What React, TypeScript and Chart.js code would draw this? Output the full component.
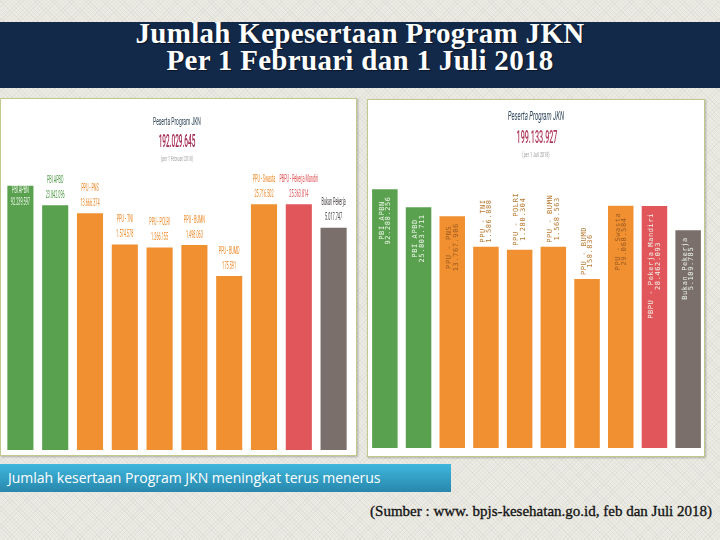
import React, { useEffect, useRef } from "react";
import { Chart, registerables } from "chart.js";

Chart.register(...registerables);

// ---------- data ----------
const categories = [
  "PBI APBN",
  "PBI APBD",
  "PPU - PNS",
  "PPU - TNI",
  "PPU - POLRI",
  "PPU - BUMN",
  "PPU - BUMD",
  "PPU - Swasta",
  "PBPU - Pekerja Mandiri",
  "Bukan Pekerja",
];
const febValues = [92239597, 23842096, 13666374, 1574578, 1266155, 1498063, 175591, 25716502, 25363814, 5017747];
const julValues = [92288256, 25803711, 13767906, 1586888, 1280304, 1568563, 158836, 29068584, 28462093, 5109785];
const febTotal = 192029645;
const julTotal = 199133927;

// ---------- styles ----------
const GREEN = "#59a14f";
const ORANGE = "#f19030";
const RED = "#e0565a";
const GRAY = "#7a6f6b";
const barColors = [GREEN, GREEN, ORANGE, ORANGE, ORANGE, ORANGE, ORANGE, ORANGE, RED, GRAY];
const LIGHT = "#eef6ea";
const febInside = [true, false, false, false, false, false, false, false, false, false];
const febLabelColors = [LIGHT, "#4f9a47", "#ee8a2a", "#ee8a2a", "#ee8a2a", "#ee8a2a", "#ee8a2a", "#ee8a2a", "#df5458", "#4a4443"];
const julInside = [true, true, true, false, false, false, false, true, true, true];
const julLabelColors = [LIGHT, LIGHT, "#9a5a22", "#b8782f", "#b8782f", "#b8782f", "#b8782f", "#9a5a22", LIGHT, LIGHT];

const fmt = (v: number) => String(v).replace(/\B(?=(\d{3})+(?!\d))/g, ".");

const febLabelPlugin = {
  id: "febLabels",
  afterDatasetsDraw(chart: any) {
    const ctx = chart.ctx;
    const meta = chart.getDatasetMeta(0);
    meta.data.forEach((bar: any, i: number) => {
      const lines = [categories[i], fmt(febValues[i])];
      const inside = febInside[i];
      const ys = inside ? [bar.y + 5, bar.y + 17] : [bar.y - 25, bar.y - 10];
      ctx.save();
      ctx.fillStyle = febLabelColors[i];
      ctx.font = "10px Roboto";
      ctx.textAlign = "center";
      ctx.textBaseline = "middle";
      ys.forEach((yy, k) => {
        ctx.save();
        ctx.translate(bar.x, yy);
        ctx.scale(0.38, 1);
        ctx.fillText(lines[k], 0, 0);
        ctx.restore();
      });
      ctx.restore();
    });
  },
};

const julLabelPlugin = {
  id: "julLabels",
  afterDatasetsDraw(chart: any) {
    const ctx = chart.ctx;
    const meta = chart.getDatasetMeta(0);
    meta.data.forEach((bar: any, i: number) => {
      const lines = [categories[i], fmt(julValues[i])];
      ctx.save();
      ctx.font = "7px 'DejaVu Sans Mono'";
      (ctx as any).letterSpacing = "0.6px";
      const L = Math.max(ctx.measureText(lines[0]).width, ctx.measureText(lines[1]).width);
      const inside = julInside[i];
      const cy = inside ? bar.y + 7 + L / 2 : bar.y - 4 - L / 2;
      ctx.fillStyle = julLabelColors[i];
      ctx.textAlign = "center";
      ctx.textBaseline = "middle";
      ctx.translate(bar.x, cy);
      ctx.rotate(-Math.PI / 2);
      ctx.fillText(lines[0], 0, -3);
      ctx.fillText(lines[1], 0, 3.5);
      ctx.restore();
    });
  },
};

function makeConfig(values: number[], pad: any, barPct: number, plugin: any): any {
  return {
    type: "bar",
    data: {
      labels: categories,
      datasets: [
        {
          data: values,
          backgroundColor: barColors,
          borderWidth: 0,
          categoryPercentage: 1,
          barPercentage: barPct,
        },
      ],
    },
    options: {
      animation: false,
      responsive: false,
      devicePixelRatio: 1,
      layout: { padding: pad },
      plugins: { legend: { display: false }, tooltip: { enabled: false }, title: { display: false } },
      scales: {
        x: { type: "category", display: false, grid: { display: false } },
        y: { type: "logarithmic", display: false, min: 1, max: Math.pow(10, 8.5) },
      },
    },
    plugins: [plugin],
  };
}

function Cond(props: any) {
  const { cx, cy, size, sx, color, weight, italic, children } = props;
  return (
    <div
      style={{
        position: "absolute",
        left: cx,
        top: cy,
        transform: `translate(-50%, -50%) scaleX(${sx})`,
        fontFamily: "Roboto, sans-serif",
        fontSize: size,
        lineHeight: 1,
        color,
        fontWeight: weight || 400,
        fontStyle: italic ? "italic" : "normal",
        whiteSpace: "nowrap",
      }}
    >
      {children}
    </div>
  );
}

export default function App() {
  const febRef = useRef<HTMLCanvasElement>(null);
  const julRef = useRef<HTMLCanvasElement>(null);

  useEffect(() => {
    const c1 = new Chart(febRef.current as HTMLCanvasElement, makeConfig(febValues, { left: 2, right: 5, top: 70, bottom: 4 }, 0.75, febLabelPlugin));
    const c2 = new Chart(julRef.current as HTMLCanvasElement, makeConfig(julValues, { left: 0, right: 0, top: 72, bottom: 7 }, 0.757, julLabelPlugin));
    return () => {
      c1.destroy();
      c2.destroy();
    };
  }, []);

  const panel: any = {
    position: "absolute",
    background: "#ffffff",
    border: "1px solid #c2c98f",
    boxSizing: "border-box",
    boxShadow: "1px 1px 2px rgba(0,0,0,0.25)",
  };

  return (
    <div
      style={{
        position: "fixed",
        left: 0,
        top: 0,
        width: 720,
        height: 540,
        overflow: "hidden",
        backgroundColor: "#ecebe4",
        backgroundImage:
          "repeating-linear-gradient(45deg, rgba(0,0,0,0.035) 0px, rgba(0,0,0,0.035) 1px, transparent 1px, transparent 3px), repeating-linear-gradient(-45deg, rgba(0,0,0,0.03) 0px, rgba(0,0,0,0.03) 1px, transparent 1px, transparent 3px)",
      }}
    >
      {/* header band */}
      <div style={{ position: "absolute", left: 0, top: 22, width: 720, height: 66, background: "#13294a" }} />
      <div
        style={{
          position: "absolute",
          left: 0,
          top: 20,
          width: 720,
          textAlign: "center",
          fontFamily: "'Liberation Serif', serif",
          fontWeight: 700,
          fontSize: 29,
          lineHeight: "27px",
          letterSpacing: "0.3px",
          color: "#ffffff",
          textShadow: "1px 1px 1px rgba(0,0,0,0.5)",
        }}
      >
        <div>Jumlah Kepesertaan Program JKN</div>
        <div>Per 1 Februari dan 1 Juli 2018</div>
      </div>

      {/* left panel */}
      <div style={{ ...panel, left: 0, top: 98, width: 357, height: 358 }} />
      <canvas ref={febRef} width={355} height={356} style={{ position: "absolute", left: 1, top: 98, display: "block" }} />
      <Cond cx={177} cy={121} size={11} sx={0.45} color="#2f4456">Peserta Program JKN</Cond>
      <Cond cx={177} cy={141} size={18} sx={0.36} color="#a32a52" weight={500}>{fmt(febTotal)}</Cond>
      <Cond cx={177} cy={159} size={8} sx={0.43} color="#a0a0a0">(per 1 Februari 2018)</Cond>

      {/* right panel */}
      <div style={{ ...panel, left: 367, top: 99, width: 338, height: 358 }} />
      <canvas ref={julRef} width={337} height={355} style={{ position: "absolute", left: 368, top: 100, display: "block" }} />
      <Cond cx={536} cy={116} size={12} sx={0.5} color="#34495e" italic>Peserta Program JKN</Cond>
      <Cond cx={537} cy={137} size={18} sx={0.4} color="#b03a5b" weight={500}>{fmt(julTotal)}</Cond>
      <Cond cx={536} cy={155} size={8} sx={0.47} color="#a0a0a0">(per 1 Juli 2018)</Cond>

      {/* caption band */}
      <div
        style={{
          position: "absolute",
          left: 0,
          top: 464,
          width: 451,
          height: 28,
          background: "linear-gradient(#40b7dc, #2887ad)",
          color: "#ffffff",
          fontFamily: "'Open Sans', sans-serif",
          fontSize: 14,
          lineHeight: "28px",
          paddingLeft: 8,
          boxSizing: "border-box",
          whiteSpace: "nowrap",
        }}
      >
        Jumlah kesertaan Program JKN meningkat terus menerus
      </div>

      {/* source */}
      <div
        style={{
          position: "absolute",
          right: 8,
          top: 502,
          fontFamily: "'Liberation Serif', serif",
          fontSize: 15,
          lineHeight: "18px",
          color: "#111111",
          whiteSpace: "nowrap",
          WebkitTextStroke: "0.3px #111111",
        }}
      >
        (Sumber : www. bpjs-kesehatan.go.id, feb dan Juli 2018)
      </div>
    </div>
  );
}
